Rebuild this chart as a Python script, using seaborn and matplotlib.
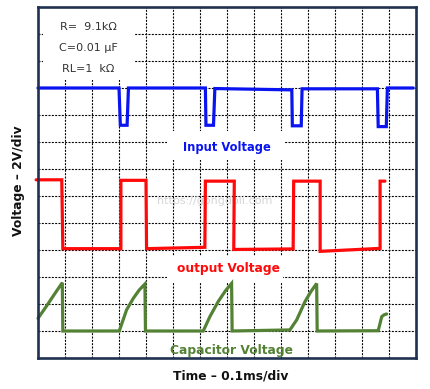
import matplotlib
matplotlib.use("Agg")
import matplotlib.pyplot as plt
from matplotlib.patches import Rectangle
import seaborn as sns
import pandas as pd

# values (x in time divisions, y in voltage divisions)
input_x = [0.0, 3.0, 3.05, 3.3, 3.35, 6.2, 6.22, 6.5, 6.55, 9.4, 9.42, 9.75, 9.78, 12.57, 12.6, 12.9, 12.94, 13.9]
input_y = [10.0, 10.0, 8.62, 8.62, 10.0, 10.0, 8.62, 8.62, 9.98, 9.93, 8.6, 8.6, 9.97, 9.97, 8.57, 8.57, 10.0, 10.0]

output_x = [-0.07, 0.88, 0.92, 3.07, 3.07, 4.0, 4.02, 6.18, 6.2, 7.27, 7.25, 9.45, 9.47, 10.45, 10.45, 12.67, 12.67, 12.85]
output_y = [6.6, 6.6, 4.05, 4.05, 6.58, 6.58, 4.05, 4.1, 6.55, 6.55, 4.02, 4.04, 6.55, 6.55, 3.95, 4.06, 6.55, 6.55]

cap_x = [0.0, 0.3, 0.6, 0.9, 0.92, 3.01, 3.28, 3.53, 3.75, 3.96, 3.98, 6.12, 6.37, 6.68, 6.95, 7.17, 7.19,
         9.33, 9.58, 9.89, 10.1, 10.32, 10.34, 12.6, 12.73, 12.82, 12.91]
cap_y = [1.47, 1.9, 2.35, 2.79, 1.0, 1.0, 1.78, 2.21, 2.52, 2.74, 1.0, 1.0, 1.54, 2.1, 2.5, 2.76, 1.0,
         1.04, 1.41, 2.09, 2.45, 2.76, 1.0, 1.01, 1.53, 1.6, 1.63]

params = ["R=  9.1k\u03a9", "C=0.01 \u03bcF", "RL=1  k\u03a9"]
labels = ["Input Voltage", "output Voltage", "Capacitor Voltage"]
colors = ["#0A14F0", "#FF0A0A", "#548235"]

sns.set_style("white")
plt.rcParams["font.family"] = ["DejaVu Sans"]

fig = plt.figure(figsize=(4.3, 3.89), dpi=100)
ax = fig.add_axes([38 / 430, 31 / 389, 378 / 430, 351 / 389])

df_in = pd.DataFrame({"x": input_x, "y": input_y})
df_out = pd.DataFrame({"x": output_x, "y": output_y})
df_cap = pd.DataFrame({"x": cap_x, "y": cap_y})

sns.lineplot(data=df_in, x="x", y="y", sort=False, estimator=None, color=colors[0], lw=2.3, ax=ax, zorder=4)
l2 = sns.lineplot(data=df_out, x="x", y="y", sort=False, estimator=None, color=colors[1], lw=2.3, ax=ax, zorder=4)
sns.lineplot(data=df_cap, x="x", y="y", sort=False, estimator=None, color=colors[2], lw=2.3, ax=ax, zorder=4)
for ln in ax.lines:
    ln.set_clip_on(False)
    ln.set_solid_joinstyle("miter")

ax.set_xlim(0, 14)
ax.set_ylim(0, 13)
ax.set_xticks(range(1, 14))
ax.set_yticks(range(1, 13))
ax.tick_params(length=0, labelbottom=False, labelleft=False)
ax.set_xlabel("")
ax.set_ylabel("")
ax.grid(True, color="black", lw=0.8, linestyle=(0, (1.8, 1.2)))
ax.set_axisbelow(True)
for sp in ax.spines.values():
    sp.set_color("#1F3050")
    sp.set_linewidth(1.9)
    sp.set_zorder(6)

# white patches that hide the grid behind the labels
for (x0, y0, w, h) in [(0.19, 10.3, 3.4, 2.7), (4.78, 7.33, 4.33, 1.08), (4.78, 2.81, 4.3, 0.97)]:
    ax.add_patch(Rectangle((x0, y0), w, h, facecolor="white", edgecolor="none", zorder=2))

for i, t in enumerate(params):
    ax.text(1.85, 12.25 - i * 0.77, t, ha="center", va="center", fontsize=8, color="#333333", zorder=5)

ax.text(7.0, 7.78, labels[0], ha="center", va="center", fontsize=8.3, fontweight="bold", color=colors[0], zorder=5)
ax.text(7.05, 3.3, labels[1], ha="center", va="center", fontsize=8.8, fontweight="bold", color=colors[1], zorder=5)
ax.text(7.15, 0.26, labels[2], ha="center", va="center", fontsize=8.8, fontweight="bold", color=colors[2], zorder=5)
ax.text(6.55, 5.82, "https://gongdoli.com", ha="center", va="center", fontsize=8, color="#D6D6D6", zorder=1.5)

fig.text(19 / 430, 1 - 181 / 389, "Voltage \u2013 2V/div", rotation=90, ha="center", va="center",
         fontsize=8.8, fontweight="bold", color="#111111")
fig.text(231 / 430, 1 - 376 / 389, "Time \u2013 0.1ms/div", ha="center", va="center",
         fontsize=8.8, fontweight="bold", color="#111111")

fig.savefig("out.png", dpi=100, facecolor="white")
